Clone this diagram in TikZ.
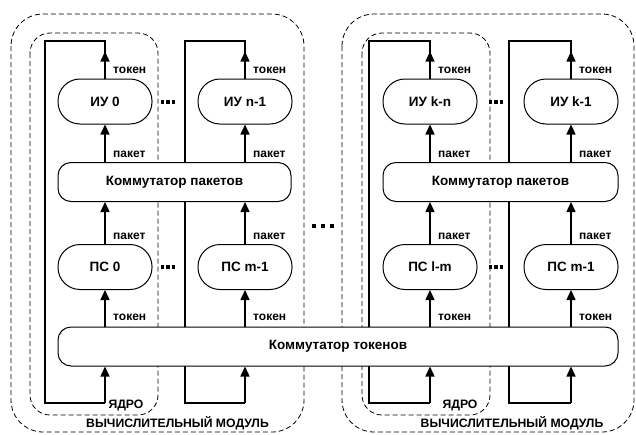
\documentclass[tikz,border=0pt]{standalone}
\usepackage{fontspec}
\setmainfont{Liberation Sans}
\usetikzlibrary{arrows.meta,backgrounds,calc}
\tikzset{
  every node/.style={font=\fontsize{13.5}{15}\selectfont\bfseries, inner sep=0pt},
  unit/.style={draw, fill=white, rounded corners=22pt, minimum width=94pt, minimum height=45pt, line width=1pt},
  sw/.style={draw, fill=white, rounded corners=13pt, minimum height=39pt, line width=1pt},
  wire/.style={line width=1.5pt},
  arr/.style={wire, -{Triangle[length=10pt,width=9pt]}},
  lbl/.style={anchor=west, font=\fontsize{12}{13}\selectfont\bfseries},
  grplbl/.style={font=\fontsize{12.2}{14}\selectfont\bfseries},
  outerbox/.style={draw, line width=0.8pt, dash pattern=on 5pt off 3pt, rounded corners=32pt},
  corebox/.style={draw, line width=0.8pt, dash pattern=on 5pt off 3pt, rounded corners=20pt},
  dotsq/.style={fill=black},
}
\newcommand\mkcolumn[6]{%
  % #1 prefix, #2 x arrow, #3 x loop, #4 IU text, #5 PS text, #6 packet switch node
  \node[unit] (#1iu) at (#2,101.5) {#4};
  \node[unit] (#1ps) at (#2,267) {#5};
  \coordinate (#1t) at (#2,41);
  \coordinate (#1tl) at (#3,41);
  \coordinate (#1bl) at (#3,403);
  \coordinate (#1b) at (#2,403);
  \begin{pgfonlayer}{background}
    \draw[wire] (#1iu.north) -- (#1t) -- (#1tl) -- (#1bl) -- (#1b);
  \end{pgfonlayer}
  \draw[arr] (#1iu.north) -- ++(0,-27);
  \draw[arr] (#1b) -- (#1b |- kt.south);
  \draw[arr] (#1iu |- #6.north) -- (#1iu.south);
  \draw[arr] (#1ps.north) -- (#1ps |- #6.south);
  \draw[arr] (#1ps |- kt.north) -- (#1ps.south);
  \node[lbl] at ($(#1iu.north)+(8,-8)$) {токен};
  \node[lbl] at ($(#1iu |- #6.north)+(8,-8)$) {пакет};
  \node[lbl] at ($(#1ps.north)+(8,-8)$) {пакет};
  \node[lbl] at ($(#1ps |- kt.north)+(8,-9)$) {токен};
}
\begin{document}
\begin{tikzpicture}[x=1pt,y=-1pt]
\useasboundingbox (0,0) rectangle (636,434);
% switches
\node[sw, minimum width=233pt] (kp) at (174.5,182) {Коммутатор пакетов};
\node[sw, minimum width=235pt] (kpr) at (500.5,182) {Коммутатор пакетов};
\node[sw, minimum width=560pt] (kt) at (338,346.5) {Коммутатор токенов};
% columns
\mkcolumn{a}{105}{45}{ИУ 0}{ПС 0}{kp}
\mkcolumn{b}{245}{185}{ИУ n-1}{ПС m-1}{kp}
\mkcolumn{c}{430}{369}{ИУ k-n}{ПС l-m}{kpr}
\mkcolumn{d}{571}{509}{ИУ k-1}{ПС m-1}{kpr}
% containers
\begin{pgfonlayer}{background}
  \draw[outerbox] (11,14) rectangle (304,432);
  \draw[outerbox] (342,14) rectangle (634,432);
  \draw[corebox] (30,33) rectangle (158,415);
  \draw[corebox] (362,33) rectangle (490,415);
\end{pgfonlayer}
\node[grplbl] (core1) at (126,405) {ЯДРО};
\node[grplbl] (core2) at (460,405) {ЯДРО};
\node[grplbl] (mod1) at (177.5,423) {ВЫЧИСЛИТЕЛЬНЫЙ МОДУЛЬ};
\node[grplbl] (mod2) at (512,423) {ВЫЧИСЛИТЕЛЬНЫЙ МОДУЛЬ};
% dots
\foreach \cx in {168,496}{
  \foreach \cy in {102,267}{
    \foreach \dx in {-5.5,0,5.5}{
      \fill[dotsq] (\cx+\dx-1.9,\cy-1.9) rectangle ++(3.8,3.8);
    }
  }
}
\foreach \dx in {-9,0,9}{
  \fill[dotsq] (323+\dx-2.4,226-2.4) rectangle ++(4.8,4.8);
}
\end{tikzpicture}
\end{document}
